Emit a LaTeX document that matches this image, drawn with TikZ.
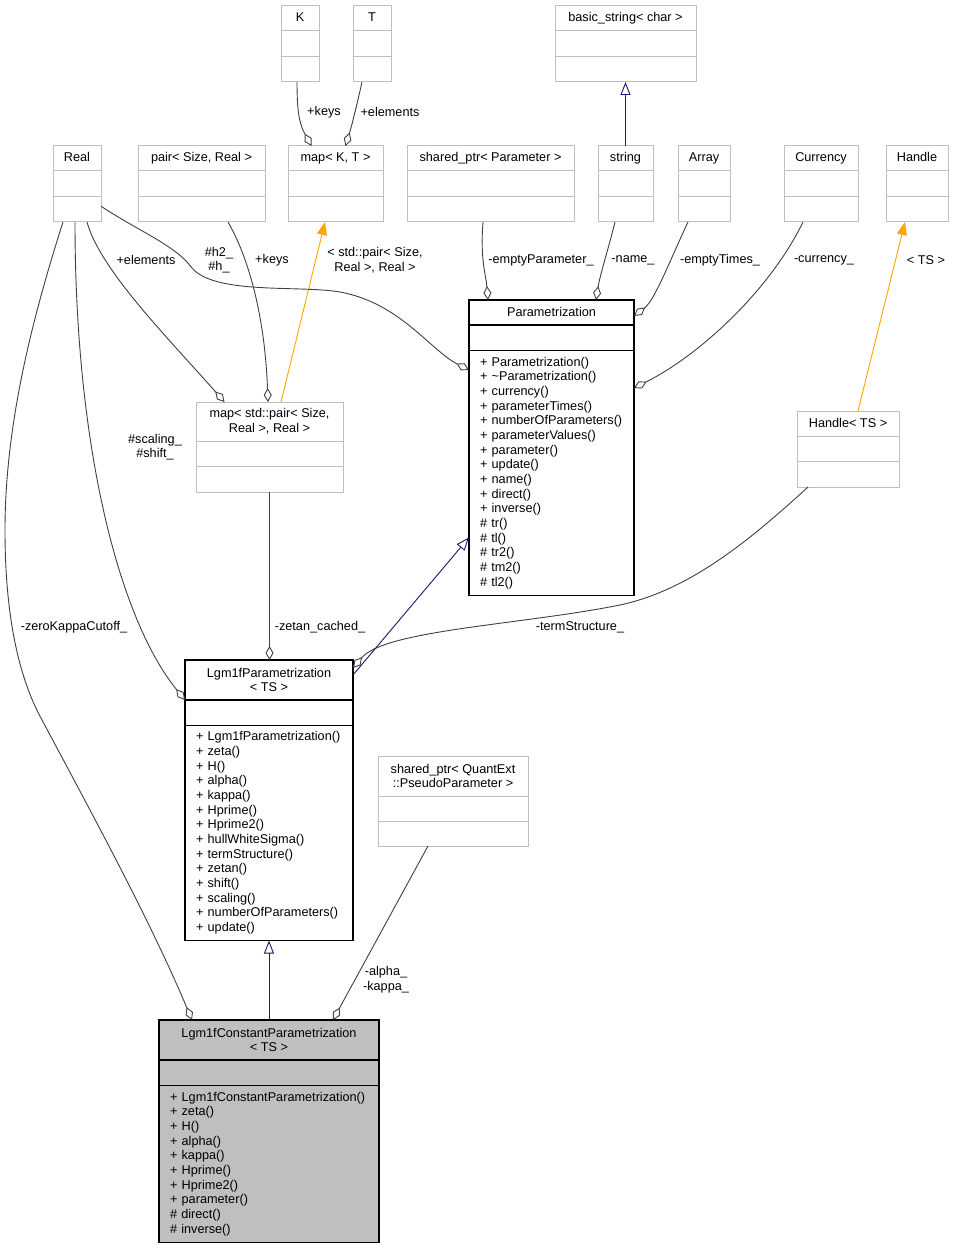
\documentclass[tikz,border=0pt]{standalone}
\usepackage{fontspec}
\setmainfont{Liberation Sans}
\usetikzlibrary{arrows.meta,positioning,calc}
\definecolor{boxgray}{HTML}{BFBFBF}
\definecolor{edgegray}{HTML}{404040}
\definecolor{inhblue}{HTML}{191970}
\definecolor{tplorange}{HTML}{FFA500}
\newcommand{\umlfont}{\fontsize{12.7}{14.67}\selectfont}
\tikzset{
  edge_label/.style={inner sep=0pt, font=\umlfont},
  class_head/.style ={rectangle, draw=boxgray, fill=white, line width=1pt, outer sep=0pt,
    inner sep=0pt, minimum height=25pt, text height=9.5pt, text depth=2.5pt, font=\umlfont},
  class_head2/.style={rectangle, draw=boxgray, fill=white, line width=1pt, outer sep=0pt,
    inner sep=0pt, minimum height=40pt, align=center, font=\umlfont},
  class_part/.style ={rectangle, draw=boxgray, fill=white, line width=1pt, outer sep=0pt,
    inner sep=0pt, minimum height=25.5pt},
  class_members/.style={rectangle, draw=black, fill=white, line width=1.2pt, outer sep=0pt,
    inner xsep=11pt, inner ysep=0pt, text width=#1, align=left, font=\umlfont},
  dark/.style={draw=black, line width=1.2pt},
  current/.style={draw=black, line width=1.2pt, fill=boxgray}}

\begin{document}
\begin{tikzpicture}[x=1pt, y=-1pt]

\tikzset{
compo/.style={draw=edgegray, line width=0.9pt, -{Diamond[open, length=14pt, width=8pt]}},
inherit/.style={draw=inhblue, line width=0.9pt, -{Triangle[open, length=13pt, width=10pt]}},
templ/.style={draw=tplorange, line width=0.9pt, -{Triangle[length=13pt, width=10pt]}}
}

\useasboundingbox (0,0) rectangle (954,1249);

%CLASS K
\node[class_head, minimum width=38pt, anchor=north west](k) at (281,6) {K};
\node[class_part, minimum width=38pt, below=0pt of k](k2) {};
\node[class_part, minimum width=38pt, below=0pt of k2](k3) {};

%CLASS T
\node[class_head, minimum width=38pt, anchor=north west](t) at (353,6) {T};
\node[class_part, minimum width=38pt, below=0pt of t](t2) {};
\node[class_part, minimum width=38pt, below=0pt of t2](t3) {};

%CLASS BASIC_STRING
\node[class_head, minimum width=141pt, anchor=north west](basic) at (555,6) {basic\_string< char >};
\node[class_part, minimum width=141pt, below=0pt of basic](basic2) {};
\node[class_part, minimum width=141pt, below=0pt of basic2](basic3) {};

%CLASS REAL
\node[class_head, minimum width=48pt, anchor=north west](real) at (53,146) {Real};
\node[class_part, minimum width=48pt, below=0pt of real](real2) {};
\node[class_part, minimum width=48pt, below=0pt of real2](real3) {};

%CLASS PAIR
\node[class_head, minimum width=127pt, anchor=north west](pair) at (138,146) {pair< Size, Real >};
\node[class_part, minimum width=127pt, below=0pt of pair](pair2) {};
\node[class_part, minimum width=127pt, below=0pt of pair2](pair3) {};

%CLASS MAP K T
\node[class_head, minimum width=95pt, anchor=north west](mapkt) at (288,146) {map< K, T >};
\node[class_part, minimum width=95pt, below=0pt of mapkt](mapkt2) {};
\node[class_part, minimum width=95pt, below=0pt of mapkt2](mapkt3) {};

%CLASS SHARED_PTR PARAMETER
\node[class_head, minimum width=167pt, anchor=north west](sparam) at (407,146) {shared\_ptr< Parameter >};
\node[class_part, minimum width=167pt, below=0pt of sparam](sparam2) {};
\node[class_part, minimum width=167pt, below=0pt of sparam2](sparam3) {};

%CLASS STRING
\node[class_head, minimum width=55pt, anchor=north west](string) at (598,146) {string};
\node[class_part, minimum width=55pt, below=0pt of string](string2) {};
\node[class_part, minimum width=55pt, below=0pt of string2](string3) {};

%CLASS ARRAY
\node[class_head, minimum width=52pt, anchor=north west](array) at (678,146) {Array};
\node[class_part, minimum width=52pt, below=0pt of array](array2) {};
\node[class_part, minimum width=52pt, below=0pt of array2](array3) {};

%CLASS CURRENCY
\node[class_head, minimum width=74pt, anchor=north west](currency) at (784,146) {Currency};
\node[class_part, minimum width=74pt, below=0pt of currency](currency2) {};
\node[class_part, minimum width=74pt, below=0pt of currency2](currency3) {};

%CLASS HANDLE
\node[class_head, minimum width=62pt, anchor=north west](handle) at (886,146) {Handle};
\node[class_part, minimum width=62pt, below=0pt of handle](handle2) {};
\node[class_part, minimum width=62pt, below=0pt of handle2](handle3) {};

%CLASS MAP PAIR
\node[class_head2, minimum width=147pt, minimum height=39pt, anchor=north west](mappair) at (196,402) {
    map< std::pair< Size,\\Real >, Real >
};
\node[class_part, minimum width=147pt, below=0pt of mappair](mappair2) {};
\node[class_part, minimum width=147pt, below=0pt of mappair2](mappair3) {};

%CLASS PARAMETRIZATION
\node[class_head, dark, minimum width=165pt, anchor=north west](par) at (469,300) {Parametrization};
\node[class_part, dark, minimum width=165pt, below=0pt of par](par2) {};
\node[class_members=143pt, minimum height=245pt, below=0pt of par2](par3) {
    +~Parametrization()\\+~\textasciitilde Parametrization()\\+~currency()\\+~parameterTimes()\\
    +~numberOfParameters()\\+~parameterValues()\\+~parameter()\\+~update()\\+~name()\\
    +~direct()\\+~inverse()\\\#~tr()\\\#~tl()\\\#~tr2()\\\#~tm2()\\\#~tl2()
};

%CLASS HANDLE TS
\node[class_head, minimum width=102pt, anchor=north west](handlets) at (797,411) {Handle< TS >};
\node[class_part, minimum width=102pt, below=0pt of handlets](handlets2) {};
\node[class_part, minimum width=102pt, below=0pt of handlets2](handlets3) {};

%CLASS LGM1F PARAMETRIZATION
\node[class_head2, dark, minimum width=168pt, anchor=north west](lgm) at (185,660) {
    Lgm1fParametrization\\< TS >
};
\node[class_part, dark, minimum width=168pt, below=0pt of lgm](lgm2) {};
\node[class_members=146pt, minimum height=215pt, below=0pt of lgm2](lgm3) {
    +~Lgm1fParametrization()\\+~zeta()\\+~H()\\+~alpha()\\+~kappa()\\+~Hprime()\\
    +~Hprime2()\\+~hullWhiteSigma()\\+~termStructure()\\+~zetan()\\+~shift()\\
    +~scaling()\\+~numberOfParameters()\\+~update()
};

%CLASS SHARED_PTR PSEUDOPARAMETER
\node[class_head2, minimum width=150pt, anchor=north west](spseudo) at (378,756) {
    shared\_ptr< QuantExt\\::PseudoParameter >
};
\node[class_part, minimum width=150pt, minimum height=25pt, below=0pt of spseudo](spseudo2) {};
\node[class_part, minimum width=150pt, minimum height=25pt, below=0pt of spseudo2](spseudo3) {};

%CLASS LGM1F CONSTANT PARAMETRIZATION
\node[class_head2, current, minimum width=220pt, anchor=north west](lgmc) at (159,1020) {
    Lgm1fConstantParametrization\\< TS >
};
\node[class_part, current, minimum width=220pt, below=0pt of lgmc](lgmc2) {};
\node[class_members=198pt, current, minimum height=157pt, below=0pt of lgmc2](lgmc3) {
    +~Lgm1fConstantParametrization()\\+~zeta()\\+~H()\\+~alpha()\\+~kappa()\\
    +~Hprime()\\+~Hprime2()\\+~parameter()\\\#~direct()\\\#~inverse()
};

%EDGES TO MAP K T
\draw[compo] ($(k3.south)+(-3,0)$) .. controls (297,115) and (300,125) .. ($(mapkt.north)+(-24,0)$);
\draw[compo] ($(t3.south)+(-10,0)$) .. controls (358,100) and (352,125) .. ($(mapkt.north)+(10,0)$);
\node[edge_label](lbkeys) at (324,112) {+keys};
\node[edge_label](lbelements) at (390,112) {+elements};

%EDGE TO BASIC_STRING
\draw[inherit] (string.north) -- (basic3.south);

%EDGES TO MAP PAIR
\draw[templ] ($(mappair.north)+(11.5,0)$) -- ($(mapkt3.south)+(-10.5,0)$);
\node[edge_label, align=center](lbpairtpl) at (375,260) {< std::pair< Size,\\Real >, Real >};

\draw[compo] ($(real3.south)+(10,0)$) .. controls (100,270) and (170,340) .. ($(mappair.north)+(-45,0)$);
\node[edge_label](lbelements2) at (146,260) {+elements};

\draw[compo] ($(pair3.south)+(26.5,0)$) .. controls (250,260) and (265,320) .. ($(mappair.north)+(-1.5,0)$);
\node[edge_label](lbkeys2) at (272,260) {+keys};

%EDGES TO PARAMETRIZATION
\draw[compo] ($(real3.east)+(0,-3)$) .. controls (140,232) and (175,245) .. (192,268)
  .. controls (215,295) and (300,285) .. (340,292)
  .. controls (400,303) and (430,350) .. ($(par3.north west)+(0,19.5)$);
\node[edge_label, align=center](lbh) at (219,260) {\#h2\_\\\#h\_};

\draw[compo] ($(sparam3.south)+(-7.5,0)$) .. controls (480,260) and (486,275) .. ($(par.north)+(-63.5,0)$);
\node[edge_label](lbemptypar) at (541,260) {-emptyParameter\_};

\draw[compo] ($(string3.south)+(-10.5,0)$) .. controls (608,250) and (600,275) .. ($(par.north)+(44.5,0)$);
\node[edge_label](lbname) at (633,260) {-name\_};

\draw[compo] ($(array3.south)+(-16,0)$) .. controls (670,260) and (655,300) .. ($(par.north east)+(0,16)$);
\node[edge_label](lbemptytimes) at (720,260) {-emptyTimes\_};

\draw[compo] ($(currency3.south)+(-18,0)$) .. controls (770,290) and (700,355) .. ($(par.north east)+(0,88)$);
\node[edge_label](lbcurrency) at (824,260) {-currency\_};

%EDGE TO HANDLE
\draw[templ] ($(handlets.north)+(10,0)$) -- ($(handle3.south)+(-12,0)$);
\node[edge_label](lbts) at (926,260) {< TS >};

%EDGES TO LGM1F PARAMETRIZATION
\draw[compo] ($(handlets3.south)+(-40,0)$) .. controls (750,540) and (690,590) .. (620,605)
  .. controls (520,625) and (385,630) .. ($(lgm.north east)+(0,8)$);
\node[edge_label](lbterm) at (580,627) {-termStructure\_};

\draw[inherit] ($(lgm.north east)+(0,15)$) -- ($(par3.south west)+(0,-58)$);

\draw[compo] (mappair3.south) -- (mappair3.south |- lgm.north);
\node[edge_label](lbzetan) at (320,627) {-zetan\_cached\_};

\draw[compo] ($(real3.south)+(-2,0)$) .. controls (75,450) and (120,620) .. (lgm.south west);
\node[edge_label, align=center](lbscaling) at (155,447) {\#scaling\_\\\#shift\_};

%EDGES TO LGM1F CONSTANT PARAMETRIZATION
\draw[compo] ($(real3.south)+(-14,0)$) .. controls (35,310) and (5,420) .. (5,530)
  .. controls (5,620) and (20,680) .. (42,720)
  .. controls (90,810) and (150,920) .. ($(lgmc.north)+(-77,0)$);
\node[edge_label](lbzero) at (74,627) {-zeroKappaCutoff\_};

\draw[inherit] (lgmc.north) -- (lgm3.south);

\draw[compo] ($(spseudo3.south)+(-25,0)$) -- ($(lgmc.north)+(64,0)$);
\node[edge_label, align=center](lbalpha) at (386,980) {-alpha\_\\-kappa\_};

\end{tikzpicture}
\end{document}
